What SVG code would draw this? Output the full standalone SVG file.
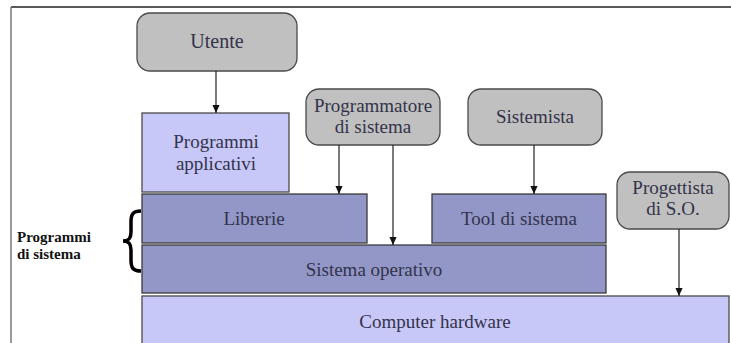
<svg xmlns="http://www.w3.org/2000/svg" width="731" height="343" viewBox="0 0 731 343">
<defs>
<style>
.actor{fill:#c0c0c0;stroke:#4a4a4a;stroke-width:1.3}
.light{fill:#c8c8f8;stroke:#4a4a4a;stroke-width:1.3}
.mid{fill:#9297c8;stroke:#3a3a3a;stroke-width:1.3}
.t{font-size:19px;fill:#33334a;text-anchor:middle}
.edge{stroke:#222;stroke-width:1.2;fill:none}
.lbl{font-size:15px;font-weight:bold;fill:#111}
</style>
<marker id="arr" markerWidth="8" markerHeight="9" refX="9" refY="4" orient="auto" markerUnits="userSpaceOnUse" viewBox="0 0 9 8">
<path d="M0,0 L9,4 L0,8 Z" fill="#111"/>
</marker>
</defs>
<rect x="0" y="0" width="731" height="343" fill="#ffffff"/>
<g id="frame">
<line x1="11" y1="7" x2="731" y2="7" stroke="#222" stroke-width="1.5"/>
<line x1="11" y1="7" x2="11" y2="343" stroke="#777" stroke-width="1.5"/>
</g>
<g font-family="Liberation Serif, Times New Roman, serif">
<g id="hardware">
<rect class="light" x="142" y="296" width="587" height="52"/>
<text class="t" x="435" y="328">Computer hardware</text>
</g>
<g id="sistema-operativo">
<rect class="mid" x="142" y="245" width="464" height="48"/>
<text class="t" x="374" y="276">Sistema operativo</text>
</g>
<g id="librerie">
<rect class="mid" x="142" y="194" width="225" height="49"/>
<text class="t" x="254" y="225">Librerie</text>
</g>
<g id="tool">
<rect class="mid" x="432" y="194" width="174" height="49"/>
<text class="t" x="519" y="225">Tool di sistema</text>
</g>
<g id="applicativi">
<rect class="light" x="142" y="113" width="147" height="79"/>
<text class="t" x="216" y="148">Programmi</text>
<text class="t" x="216" y="170">applicativi</text>
</g>
<g id="utente">
<rect class="actor" x="137" y="13" width="160" height="58" rx="13"/>
<text class="t" x="217" y="48" style="font-size:20px">Utente</text>
</g>
<g id="programmatore">
<rect class="actor" x="306" y="89" width="134" height="56" rx="13"/>
<text class="t" x="373" y="112">Programmatore</text>
<text class="t" x="373" y="133">di sistema</text>
</g>
<g id="sistemista">
<rect class="actor" x="468" y="89" width="134" height="56" rx="13"/>
<text class="t" x="535" y="123">Sistemista</text>
</g>
<g id="progettista">
<rect class="actor" x="617" y="172" width="112" height="57" rx="13"/>
<text class="t" x="673" y="194">Progettista</text>
<text class="t" x="673" y="215">di S.O.</text>
</g>
<g id="label">
<text class="lbl" x="17" y="242">Programmi</text>
<text class="lbl" x="17" y="259">di sistema</text>
<path d="M141,211 C133,211 131,214 131,222 L131,232 C131,238 129,241 123,241 C129,241 131,244 131,250 L131,260 C131,268 133,271 141,271" fill="none" stroke="#000" stroke-width="3.5"/>
</g>
</g>
<g id="connectors">
<line class="edge" x1="216" y1="71" x2="216" y2="113" marker-end="url(#arr)"/>
<line class="edge" x1="339" y1="145" x2="339" y2="194" marker-end="url(#arr)"/>
<line class="edge" x1="393" y1="145" x2="393" y2="245" marker-end="url(#arr)"/>
<line class="edge" x1="534" y1="145" x2="534" y2="194" marker-end="url(#arr)"/>
<line class="edge" x1="679" y1="229" x2="679" y2="296" marker-end="url(#arr)"/>
</g>
</svg>
